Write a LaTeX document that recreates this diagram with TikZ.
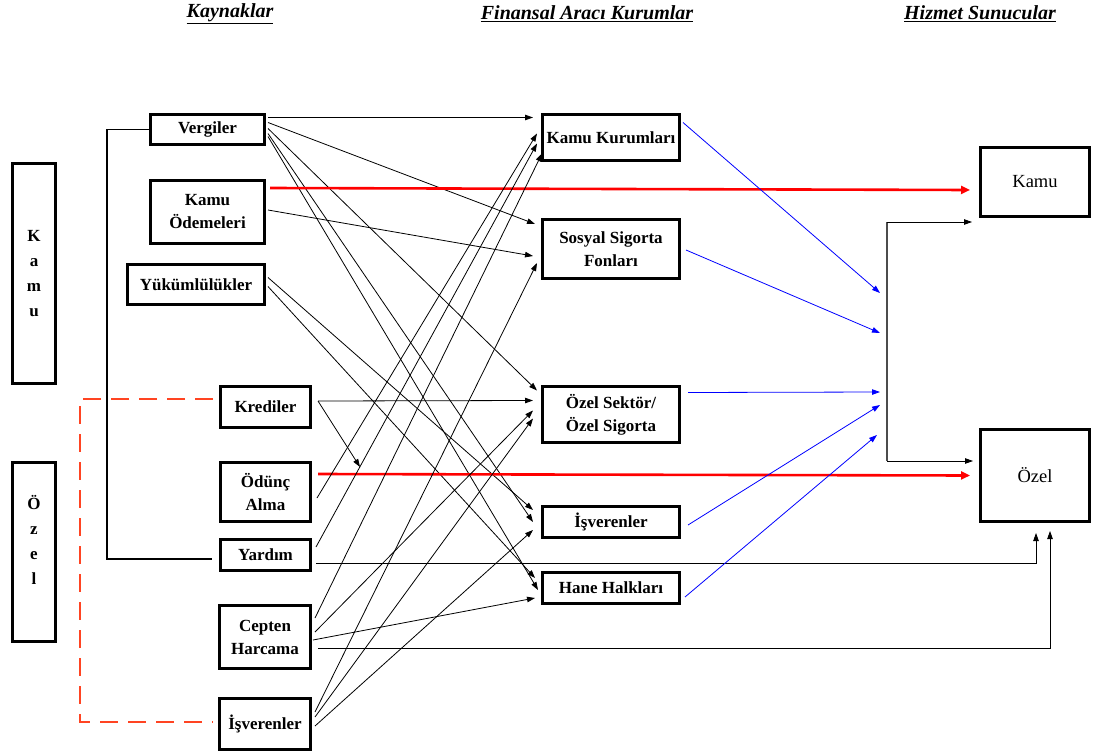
\documentclass[tikz,border=0pt]{standalone}
\usepackage{fontspec}
\setmainfont{Liberation Serif}
\usetikzlibrary{arrows.meta,calc}
\definecolor{dashred}{HTML}{FF4422}
\begin{document}
\begin{tikzpicture}[x=1pt,y=-1pt,
  box/.style={draw, line width=3pt, inner sep=0pt, align=center, font=\fontsize{17}{23}\selectfont\bfseries},
  vtext/.style={align=center, inner sep=0pt, font=\fontsize{17}{25}\selectfont\bfseries},
  rbox/.style={draw, line width=3pt, inner sep=0pt, align=center, font=\fontsize{18.5}{23}\selectfont},
  arr/.style={-{Triangle[length=8pt,width=5.5pt]}, line width=0.8pt},
  blu/.style={arr, blue},
  redarr/.style={-{Triangle[length=9pt,width=8pt]}, line width=2.6pt, red},
  hdr/.style={inner sep=0pt, font=\fontsize{20}{24}\selectfont\bfseries\itshape}
]
\useasboundingbox (0,0) rectangle (1093,755);

% headers
\node[hdr] (h1) at (230,14) {\underline{Kaynaklar}};
\node[hdr] (h2) at (587,14) {\underline{Finansal Aracı Kurumlar}};
\node[hdr] (h3) at (980,14) {\underline{Hizmet Sunucular}};

% left category boxes
\node[box, minimum width=43pt, minimum height=220pt] (kamuL) at (34,273.5) {};
\node[vtext] (kamuLt) at (34,274) {K\\a\\m\\u};
\node[box, minimum width=43pt, minimum height=179pt] (ozelL) at (34,552) {};
\node[vtext] (ozelLt) at (34,540) {Ö\\z\\e\\l};

% sources
\node[box, minimum width=114pt, minimum height=30pt] (vergiler) at (207.5,129.5) {Vergiler};
\node[box, minimum width=114pt, minimum height=63pt] (kamuOd) at (207.5,212) {Kamu\\Ödemeleri};
\node[box, minimum width=137pt, minimum height=40pt] (yuk) at (196,284.5) {Yükümlülükler};
\node[box, minimum width=90pt, minimum height=41pt] (krediler) at (265.5,407) {Krediler};
\node[box, minimum width=90pt, minimum height=59pt] (odunc) at (265.5,492) {Ödünç\\Alma};
\node[box, minimum width=90pt, minimum height=31pt] (yardim) at (265.5,555) {Yardım};
\node[box, minimum width=91pt, minimum height=63pt] (cepten) at (265,637) {Cepten\\Harcama};
\node[box, minimum width=91pt, minimum height=51pt] (isverenS) at (265,724) {İşverenler};

% intermediaries
\node[box, minimum width=137pt, minimum height=46pt] (kamuK) at (611,137.5) {Kamu Kurumları};
\node[box, minimum width=137pt, minimum height=59pt] (sosyal) at (611,249) {Sosyal Sigorta\\Fonları};
\node[box, minimum width=137pt, minimum height=56pt] (ozelS) at (611,414.5) {Özel Sektör/\\Özel Sigorta};
\node[box, minimum width=137pt, minimum height=31pt] (isverenM) at (611,522) {İşverenler};
\node[box, minimum width=137pt, minimum height=31pt] (hane) at (611,588) {Hane Halkları};

% providers
\node[rbox, minimum width=109pt, minimum height=69pt] (kamuR) at (1035,182) {Kamu};
\node[rbox, minimum width=109pt, minimum height=92pt] (ozelR) at (1035,475.5) {Özel};

% brackets
\draw[line width=1.6pt] (vergiler.west) -- ++(-42,0) |- ($(yardim.west)+(-7,4)$);
\draw[dashred, line width=2.4pt, dash pattern=on 18pt off 10pt]
  ($(krediler.west)+(-6,-8)$) -- ++(-133,0) |- ($(isverenS.west)+(-5,-2)$);

% Vergiler
\draw[arr] ($(vergiler.east)+(2,-12)$) -- ($(kamuK.west)+(-8,-20)$);
\draw[arr] ($(vergiler.east)+(2,-7)$) -- ($(sosyal.west)+(-6,-25)$);
\draw[arr] ($(vergiler.east)+(2,-1)$) -- ($(ozelS.west)+(-4,-24)$);
\draw[arr] ($(vergiler.east)+(2,4)$) -- ($(isverenM.west)+(-8,0)$);
\draw[arr] ($(vergiler.east)+(2,7)$) -- ($(hane.west)+(-3,2)$);

% Kamu Odemeleri
\draw[redarr] ($(kamuOd.east)+(4,-24)$) -- ($(kamuR.west)+(-9,8)$);
\draw[arr] ($(kamuOd.east)+(2,-2)$) -- ($(sosyal.west)+(-8,7)$);

% Yukumlulukler
\draw[arr] ($(yuk.east)+(2,-7)$) -- ($(isverenM.west)+(-8,-12)$);
\draw[arr] ($(yuk.east)+(2,2)$) -- ($(hane.west)+(-6,-10)$);

% Krediler
\coordinate (kfree) at (360,467);
\draw[arr] ($(krediler.east)+(6,-6)$) -- ($(ozelS.west)+(-8,-14)$);
\draw[arr] ($(krediler.east)+(6,-6)$) -- (kfree);

% Odunc Alma
\draw[redarr] ($(odunc.east)+(6,-18)$) -- ($(ozelR.west)+(-9,0)$);
\draw[arr] ($(odunc.east)+(5,6)$) -- ($(kamuK.west)+(-4,-4)$);

% Yardim
\draw[arr] ($(yardim.east)+(4,-8)$) -- ($(kamuK.west)+(-4,6)$);
\draw[arr] ($(yardim.east)+(4,8)$) -| ($(ozelR.south)+(1,10)$);

% Cepten Harcama
\draw[arr] ($(cepten.east)+(3,-19)$) -- ($(kamuK.west)+(1,16)$);
\draw[arr] ($(cepten.east)+(3,-5)$) -- ($(ozelS.west)+(-8,-4)$);
\draw[arr] ($(cepten.east)+(1,3)$) -- ($(hane.west)+(-6,10)$);
\draw[arr] ($(cepten.east)+(6,11)$) -| ($(ozelR.south)+(15,8)$);

% Isverenler (source)
\draw[arr] ($(isverenS.east)+(3,-12)$) -- ($(sosyal.west)+(-4,14)$);
\draw[arr] ($(isverenS.east)+(3,-7)$) -- ($(ozelS.west)+(-8,4)$);
\draw[arr] ($(isverenS.east)+(3,2)$) -- ($(isverenM.west)+(-8,8)$);

% blue
\coordinate (b1) at (880,293);
\coordinate (b2) at (880,333);
\coordinate (b3) at (880,392);
\coordinate (b4) at (880,405);
\coordinate (b5) at (877,435);
\draw[blu] ($(kamuK.east)+(2,-15)$) -- (b1);
\draw[blu] ($(sosyal.east)+(5,1)$) -- (b2);
\draw[blu] ($(ozelS.east)+(7,-22)$) -- (b3);
\draw[blu] ($(isverenM.east)+(7,3)$) -- (b4);
\draw[blu] ($(hane.east)+(4,9)$) -- (b5);

% collector
\coordinate (vtop) at (887,222);
\coordinate (vbot) at (887,461);
\draw[line width=1.2pt, black!70] (vtop) -- (vbot);
\draw[arr] (vtop) -- ($(kamuR.south west)+(-7,4)$);
\draw[arr] (vbot) -- ($(ozelR.west)+(-6,-14.5)$);
\end{tikzpicture}
\end{document}
